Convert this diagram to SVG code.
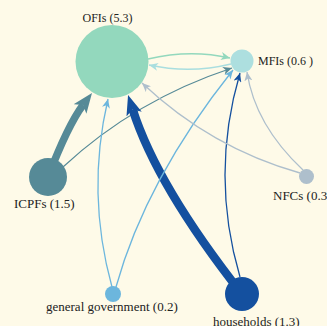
<svg xmlns="http://www.w3.org/2000/svg" width="327" height="326" viewBox="0 0 327 326">
<style>
.lbl{font-family:"Liberation Serif","Times New Roman",serif;fill:#222;}
.e{fill:none;stroke-linecap:butt;}
</style>
<defs>
<marker id="aMint" markerUnits="userSpaceOnUse" viewBox="0 -4 9 8" markerWidth="9" markerHeight="8" refX="9" refY="0" orient="auto"><path d="M0,-4 L9,0 L0,4 L2.5,0 Z" fill="#93d8bd"/></marker>
<marker id="aCyan" markerUnits="userSpaceOnUse" viewBox="0 -4 9 8" markerWidth="9" markerHeight="8" refX="9" refY="0" orient="auto"><path d="M0,-4 L9,0 L0,4 L2.5,0 Z" fill="#a9dedf"/></marker>
<marker id="aTeal" markerUnits="userSpaceOnUse" viewBox="0 -4 9 8" markerWidth="9" markerHeight="8" refX="9" refY="0" orient="auto"><path d="M0,-4 L9,0 L0,4 L2.5,0 Z" fill="#568a97"/></marker>
<marker id="aLblue" markerUnits="userSpaceOnUse" viewBox="0 -4 9 8" markerWidth="9" markerHeight="8" refX="9" refY="0" orient="auto"><path d="M0,-4 L9,0 L0,4 L2.5,0 Z" fill="#6cb6dd"/></marker>
<marker id="aDblue" markerUnits="userSpaceOnUse" viewBox="0 -4 9 8" markerWidth="9" markerHeight="8" refX="9" refY="0" orient="auto"><path d="M0,-4 L9,0 L0,4 L2.5,0 Z" fill="#14509f"/></marker>
<marker id="aGrey" markerUnits="userSpaceOnUse" viewBox="0 -4 9 8" markerWidth="9" markerHeight="8" refX="9" refY="0" orient="auto"><path d="M0,-4 L9,0 L0,4 L2.5,0 Z" fill="#aebfcc"/></marker>
<marker id="aTealBig" markerUnits="userSpaceOnUse" viewBox="0 -8 20 16" markerWidth="20" markerHeight="16" refX="5" refY="0" orient="auto"><path d="M0,-8 L20,0 L0,8 L5,0 Z" fill="#568a97"/></marker>
<marker id="aDblueBig" markerUnits="userSpaceOnUse" viewBox="0 -8 20 16" markerWidth="20" markerHeight="16" refX="5" refY="0" orient="auto"><path d="M0,-8 L20,0 L0,8 L5,0 Z" fill="#14509f"/></marker>
</defs>
<rect width="327" height="326" fill="#fefae8"/>
<g id="connectors">
<path class="e" d="M148,59 Q190,49 230,58" stroke="#93d8bd" stroke-width="1.5" marker-end="url(#aMint)"/>
<path class="e" d="M231,64 Q190,74 149,65" stroke="#a9dedf" stroke-width="1.5" marker-end="url(#aCyan)"/>
<path class="e" d="M48,177 Q68,125 83,105" stroke="#568a97" stroke-width="7.5" marker-end="url(#aTealBig)"/>
<path class="e" d="M63,167 Q135,100 232,68" stroke="#568a97" stroke-width="1.2" marker-end="url(#aTeal)"/>
<path class="e" d="M242,294 Q157,186 132.6,109.3" stroke="#14509f" stroke-width="8.5" marker-end="url(#aDblueBig)"/>
<path class="e" d="M240,277 Q210,175 240,73" stroke="#14509f" stroke-width="1.3" marker-end="url(#aDblue)"/>
<path class="e" d="M112,287 Q86,193 108,99" stroke="#6cb6dd" stroke-width="1.3" marker-end="url(#aLblue)"/>
<path class="e" d="M116,287 Q146,179 233,70" stroke="#6cb6dd" stroke-width="1.3" marker-end="url(#aLblue)"/>
<path class="e" d="M300,173 Q211,148 142,83" stroke="#aebfcc" stroke-width="1.3" marker-end="url(#aGrey)"/>
<path class="e" d="M303,170 Q255,125 247,72" stroke="#aebfcc" stroke-width="1.3" marker-end="url(#aGrey)"/>
</g>
<g id="node-OFIs">
<circle cx="112" cy="61.5" r="36.5" fill="#93d8bd"/>
<text class="lbl" x="107.5" y="22" font-size="12" text-anchor="middle">OFIs (5.3)</text>
</g>
<g id="node-MFIs">
<circle cx="242" cy="61" r="11.5" fill="#addfdf"/>
<text class="lbl" x="258" y="65" font-size="12">MFIs (0.6 )</text>
</g>
<g id="node-ICPFs">
<circle cx="48" cy="177" r="19" fill="#568a97"/>
<text class="lbl" x="14" y="208" font-size="13">ICPFs (1.5)</text>
</g>
<g id="node-NFCs">
<circle cx="306.5" cy="176.5" r="7.5" fill="#aebfcc"/>
<text class="lbl" x="273" y="200" font-size="13">NFCs (0.3)</text>
</g>
<g id="node-general-government">
<circle cx="113" cy="294" r="8" fill="#6cb6dd"/>
<text class="lbl" x="46" y="311" font-size="13">general government (0.2)</text>
</g>
<g id="node-households">
<circle cx="242" cy="294" r="17" fill="#14509f"/>
<text class="lbl" x="213" y="326" font-size="13">households (1.3)</text>
</g>
</svg>
